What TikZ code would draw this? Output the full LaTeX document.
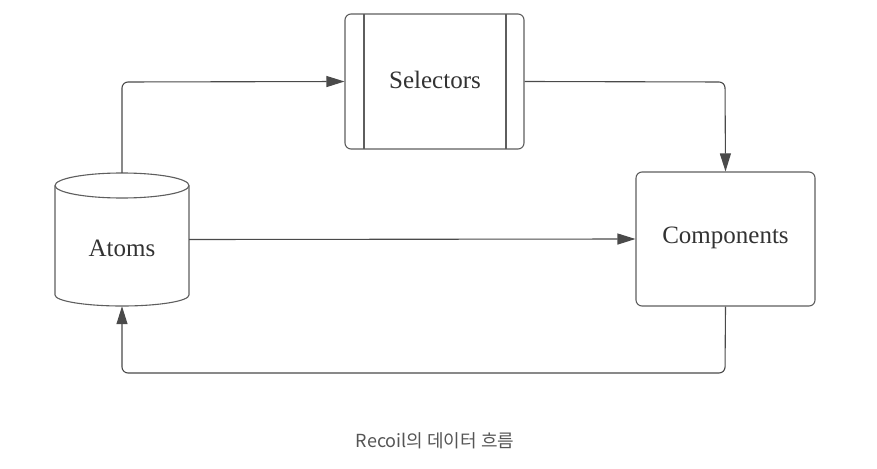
\documentclass[tikz,border=0pt]{standalone}
\usepackage{fontspec}
\setmainfont{Liberation Serif}
\newfontfamily\krfont{Noto Sans CJK KR}
\usetikzlibrary{arrows.meta}
\definecolor{linec}{HTML}{4A4A4A}
\definecolor{boxc}{HTML}{5E5E5E}
\definecolor{txtc}{HTML}{333333}
\definecolor{capc}{HTML}{555555}
\begin{document}
\begin{tikzpicture}[x=1pt,y=-1pt,
  boxstyle/.style={draw=boxc,line width=1.1pt,rounded corners=6pt,fill=white,inner sep=0pt},
  lbl/.style={text=txtc,font=\fontsize{25}{28}\selectfont},
  conn/.style={draw=linec,line width=1.1pt,rounded corners=6pt,-{Triangle[length=18pt,width=11pt]}}
]
\useasboundingbox (0,0) rectangle (877,468);
% Selectors
\node[boxstyle,minimum width=179pt,minimum height=135pt] (sel) at (434.5,81.5) {};
\draw[boxc,line width=1.1pt] (364,14) -- (364,149) (506,14) -- (506,149);
\node[lbl] (sellbl) at (435,80) {Selectors};
% Components
\node[boxstyle,minimum width=179pt,minimum height=134pt] (comp) at (725.5,239) {};
\node[lbl] (complbl) at (725.5,238) {Components};
% Atoms cylinder
\node[inner sep=0pt,minimum width=134pt,minimum height=133pt] (atoms) at (122,239.5) {};
\draw[boxc,line width=1.1pt,fill=white] (55,185.5) -- (55,295) arc[start angle=180,end angle=360,x radius=67pt,y radius=11pt] -- (189,185.5) arc[start angle=0,end angle=180,x radius=67pt,y radius=12.5pt] -- cycle;
\draw[boxc,line width=1.1pt] (55,185.5) arc[start angle=180,end angle=360,x radius=67pt,y radius=12.5pt];
\node[lbl] (atomslbl) at (122,248) {Atoms};
% connectors
\draw[conn] (atoms.north) -- (122,82) -- (sel.west);
\draw[conn] (sel.east) -- (725,82) -- (comp.north);
\draw[conn] (atoms.east) -- (comp.west);
\draw[conn] (comp.south) -- (725,373) -- (122,373) -- (atoms.south);
% caption
\node[text=capc,font=\krfont\fontsize{18}{21}\selectfont] (cap) at (435,441) {Recoil의 데이터 흐름};
\end{tikzpicture}
\end{document}
